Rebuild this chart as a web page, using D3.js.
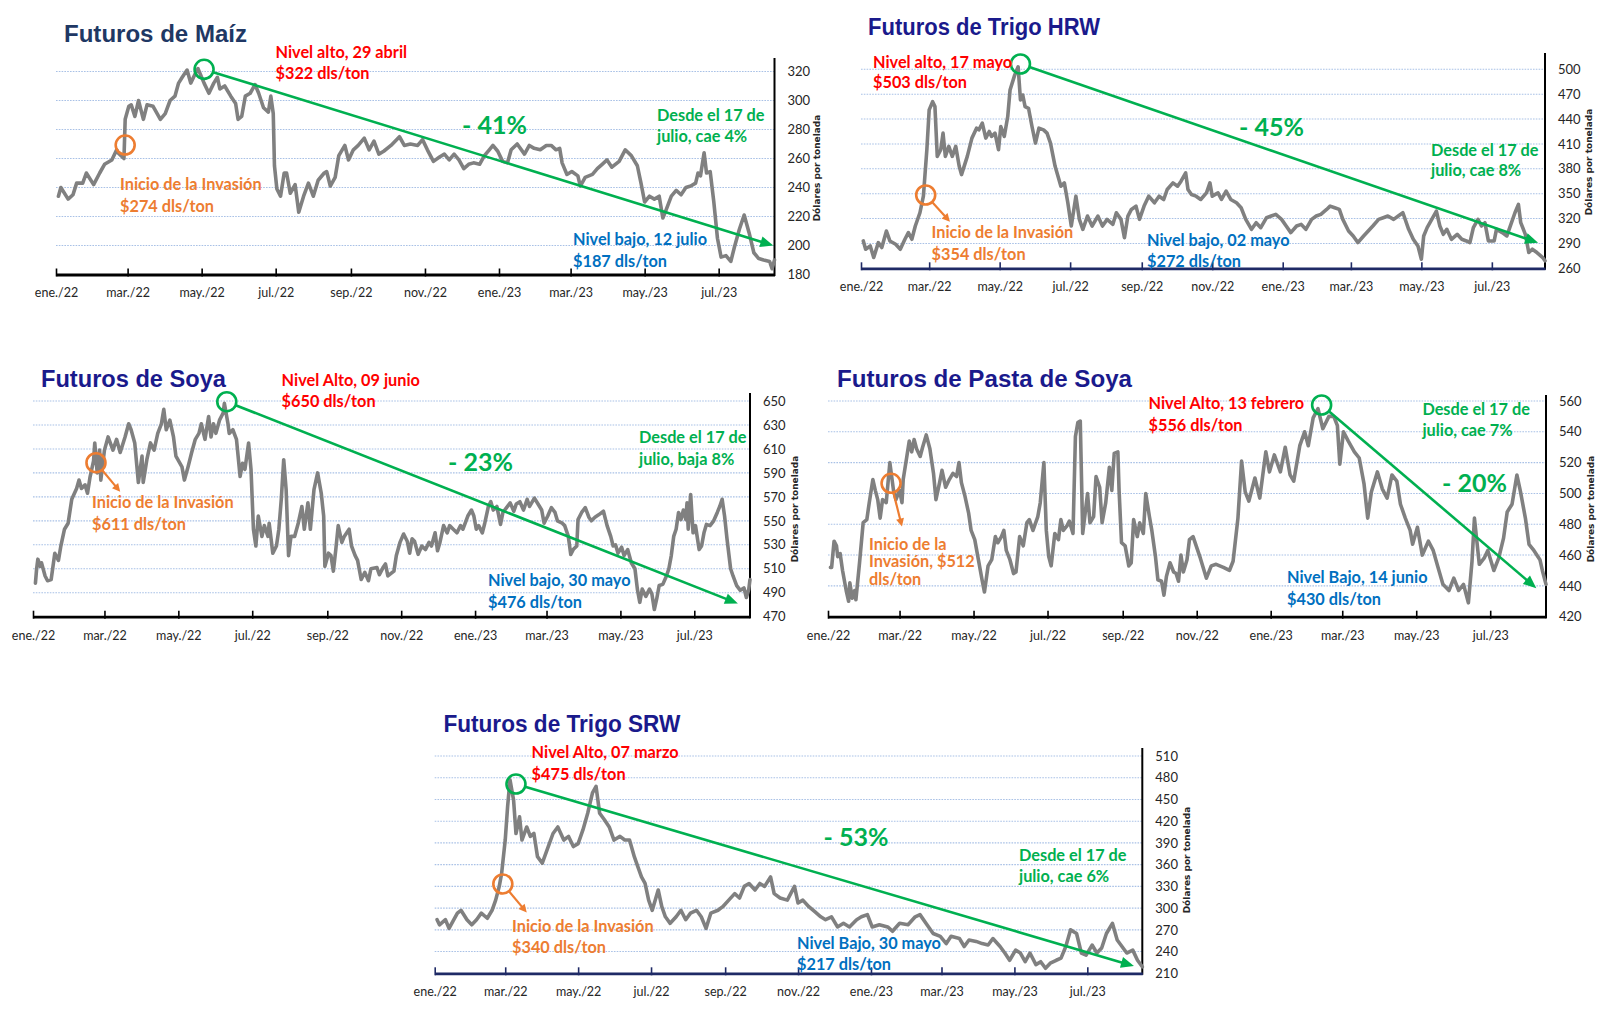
<!DOCTYPE html>
<html><head><meta charset="utf-8">
<script src="https://cdn.jsdelivr.net/npm/d3@7"></script>
<style>body{margin:0;background:#fff}svg{display:block}</style>
</head><body><svg id="c" width="1600" height="1009"></svg>
<script>
// ---------- DATA ----------
// x = days since 1 Jan 2022, y = US$ per ton
const tickLabels = ["ene./22","mar./22","may./22","jul./22","sep./22","nov./22","ene./23","mar./23","may./23","jul./23"];
const tickMonths = [0,2,4,6,8,10,12,14,16,18];

const maizTicks = [180,200,220,240,260,280,300,320];
const hrwTicks = [260,290,320,350,380,410,440,470,500];
const soyaTicks = [470,490,510,530,550,570,590,610,630,650];
const pastaTicks = [420,440,460,480,500,520,540,560];
const srwTicks = [210,240,270,300,330,360,390,420,450,480,510];

const maizData = [[2,234],[4,240],[10,232],[14,235],[17,243],[22,243],[25,250],[31,242],[36,250],[40,256],[46,259],[50,266],[51,264],[56,260],[57,287],[60,296],[62,297],[65,289],[68,300],[72,287],[75,297],[80,296],[86,287],[90,291],[94,300],[98,303],[101,312],[104,316],[108,321],[111,312],[115,319],[117,322],[122,312],[126,305],[130,312],[133,316],[135,308],[139,310],[144,303],[148,298],[150,287],[153,289],[156,303],[160,305],[164,311],[167,305],[171,295],[175,292],[177,303],[179,291],[180,255],[182,239],[185,234],[188,250],[190,250],[193,236],[197,242],[200,223],[204,234],[208,243],[212,234],[216,245],[221,250],[223,251],[226,241],[230,247],[233,262],[238,269],[241,259],[245,266],[249,269],[254,274],[258,266],[262,272],[266,263],[270,265],[276,269],[283,275],[287,269],[292,270],[298,269],[302,273],[306,266],[311,258],[316,261],[320,263],[324,259],[328,263],[332,259],[336,253],[340,256],[344,257],[349,256],[353,262],[357,266],[360,269],[364,265],[368,258],[372,257],[375,266],[380,270],[386,263],[390,269],[394,267],[399,266],[404,269],[408,269],[412,266],[415,267],[417,257],[421,249],[425,251],[430,248],[432,241],[436,247],[442,249],[446,253],[450,256],[454,259],[458,254],[464,258],[469,266],[474,262],[479,255],[482,243],[485,230],[489,234],[493,232],[497,234],[500,219],[502,223],[507,234],[511,238],[515,235],[519,240],[523,241],[527,243],[529,250],[531,248],[534,264],[536,250],[539,251],[542,230],[545,205],[548,192],[552,193],[556,189],[559,199],[563,211],[567,221],[571,209],[575,195],[579,191],[583,190],[588,189],[590,184],[592,190]];

const hrwData = [[2,293],[4,283],[8,287],[11,273],[15,291],[18,285],[22,305],[25,293],[30,289],[34,283],[38,295],[41,303],[44,295],[47,311],[51,327],[54,347],[57,403],[59,451],[62,461],[64,455],[66,395],[69,403],[71,423],[73,395],[76,407],[79,395],[82,407],[85,383],[87,373],[92,395],[96,417],[100,429],[102,427],[105,435],[108,417],[111,425],[113,419],[116,423],[119,403],[121,431],[124,419],[127,443],[129,475],[133,493],[136,503],[138,463],[140,469],[142,455],[145,453],[148,431],[151,411],[154,429],[158,427],[161,423],[164,411],[168,383],[173,359],[176,363],[179,339],[182,311],[186,347],[189,319],[192,307],[196,323],[200,311],[205,323],[209,311],[213,319],[218,313],[221,327],[225,319],[228,297],[231,323],[234,331],[238,335],[241,319],[245,335],[249,347],[254,339],[258,347],[262,343],[265,355],[270,363],[274,359],[277,365],[281,375],[283,355],[286,349],[290,347],[294,343],[299,351],[302,363],[304,347],[309,351],[312,343],[316,353],[320,343],[325,339],[329,333],[333,319],[338,307],[342,315],[346,309],[351,321],[355,323],[359,325],[364,319],[368,311],[372,303],[377,311],[381,313],[385,307],[390,319],[394,323],[398,325],[403,331],[406,335],[410,333],[414,331],[417,319],[422,305],[426,299],[430,291],[435,299],[439,305],[443,311],[448,319],[452,321],[456,323],[461,319],[465,323],[469,327],[474,307],[478,295],[482,287],[485,271],[487,299],[490,309],[494,319],[498,329],[501,311],[504,301],[507,307],[511,295],[516,301],[520,295],[524,293],[527,291],[530,309],[534,319],[537,311],[540,315],[543,293],[548,293],[550,307],[555,303],[559,299],[563,315],[566,327],[569,337],[571,315],[575,301],[578,279],[581,283],[585,279],[590,273],[592,269]];

const soyaData = [[2,498],[3,510],[4,518],[6,512],[7,515],[10,504],[12,500],[15,501],[18,523],[21,517],[23,529],[26,543],[29,548],[32,568],[36,577],[38,584],[40,577],[43,580],[45,573],[47,586],[50,600],[51,615],[53,590],[55,609],[56,584],[59,609],[62,620],[66,609],[69,618],[72,607],[76,620],[79,631],[81,626],[84,615],[87,582],[90,604],[91,582],[94,601],[97,615],[100,609],[103,623],[106,631],[108,643],[110,626],[113,634],[116,620],[118,604],[123,595],[125,584],[128,595],[131,607],[134,618],[137,623],[139,631],[142,618],[145,637],[147,620],[149,631],[151,623],[154,634],[157,640],[158,648],[161,631],[162,623],[165,626],[168,618],[171,587],[173,598],[175,593],[178,615],[180,593],[182,543],[184,529],[186,554],[189,537],[191,546],[194,537],[195,548],[198,523],[201,529],[203,543],[205,568],[207,601],[209,576],[211,521],[213,537],[216,537],[219,548],[222,562],[224,543],[227,565],[229,543],[232,576],[235,590],[238,573],[240,554],[241,512],[244,523],[246,521],[248,508],[250,526],[252,546],[255,532],[257,537],[261,543],[263,529],[266,521],[268,517],[271,501],[274,507],[277,500],[279,510],[284,511],[286,505],[289,511],[291,514],[293,504],[298,508],[300,521],[303,532],[306,539],[309,533],[311,523],[313,535],[315,533],[318,522],[321,529],[324,526],[327,532],[329,529],[332,540],[334,525],[336,532],[339,546],[342,540],[344,546],[347,543],[350,540],[353,546],[355,543],[359,554],[362,559],[364,554],[366,543],[368,546],[371,540],[373,548],[376,562],[378,566],[380,559],[383,562],[386,547],[388,557],[391,561],[394,565],[397,558],[399,564],[402,566],[405,559],[408,568],[410,562],[414,569],[417,564],[420,559],[422,548],[425,554],[428,561],[431,557],[433,550],[437,548],[439,546],[442,537],[444,522],[446,526],[449,529],[450,551],[453,557],[456,561],[459,553],[461,550],[464,553],[467,555],[471,558],[474,546],[477,537],[479,529],[481,530],[483,523],[486,528],[488,521],[491,526],[494,515],[497,510],[499,493],[501,482],[503,493],[506,487],[509,493],[511,489],[513,476],[515,485],[517,496],[520,497],[523,504],[525,510],[527,521],[529,537],[531,543],[533,557],[535,551],[537,559],[539,551],[540,565],[541,543],[543,572],[545,540],[547,546],[550,526],[552,529],[554,540],[556,547],[559,546],[562,550],[565,557],[567,562],[569,568],[571,554],[573,535],[576,510],[578,504],[581,496],[584,492],[587,494],[589,486],[591,493],[592,501]];

const pastaData = [[2,452],[3,452],[5,469],[7,466],[8,459],[10,461],[12,450],[15,437],[17,430],[18,442],[20,432],[22,437],[23,431],[26,455],[29,481],[32,483],[34,494],[37,509],[39,502],[41,496],[43,484],[45,496],[48,494],[51,520],[54,502],[56,496],[59,502],[61,494],[62,509],[65,524],[67,534],[69,527],[71,535],[73,529],[76,524],[78,530],[81,538],[84,529],[87,513],[89,496],[92,507],[94,515],[97,504],[100,509],[103,513],[106,511],[108,520],[110,507],[113,498],[116,487],[118,476],[121,470],[124,457],[127,444],[129,436],[132,453],[135,457],[138,472],[140,468],[143,472],[145,476],[147,463],[150,457],[153,448],[155,449],[158,472],[161,466],[164,481],[166,483],[169,476],[173,485],[175,494],[178,520],[180,476],[182,459],[184,453],[187,474],[190,470],[192,483],[194,476],[197,479],[199,482],[202,474],[204,537],[206,546],[208,547],[210,474],[212,487],[214,500],[216,481],[219,485],[221,511],[224,504],[226,481],[229,494],[232,517],[234,502],[236,526],[239,527],[240,502],[242,468],[245,466],[248,453],[250,455],[252,483],[255,472],[257,481],[260,474],[262,500],[265,485],[267,476],[270,459],[272,444],[275,443],[277,434],[279,446],[282,455],[285,449],[287,448],[289,443],[291,460],[293,449],[296,457],[298,470],[301,472],[307,458],[312,445],[316,453],[320,454],[326,452],[331,450],[334,456],[338,484],[341,521],[344,501],[347,495],[352,510],[356,497],[361,527],[364,514],[368,525],[373,514],[377,530],[381,512],[384,508],[389,531],[393,540],[396,531],[400,549],[404,555],[408,542],[413,550],[417,550],[420,544],[422,519],[425,540],[429,534],[434,527],[438,523],[442,506],[445,484],[448,501],[453,514],[457,503],[461,497],[465,512],[469,508],[472,493],[476,484],[480,476],[482,467],[486,478],[490,460],[495,469],[499,463],[503,452],[507,441],[512,437],[516,445],[520,437],[524,441],[528,429],[531,456],[533,484],[537,454],[541,458],[544,463],[549,450],[553,458],[557,471],[560,488],[564,493],[568,512],[571,501],[575,484],[578,467],[582,463],[587,457],[589,450],[592,441]];

const srwData = [[2,284],[4,277],[9,284],[12,272],[16,284],[19,293],[22,297],[27,284],[31,277],[35,284],[39,293],[44,286],[48,297],[51,311],[54,330],[56,348],[59,394],[61,440],[63,477],[66,449],[68,403],[71,426],[73,394],[77,412],[80,399],[83,403],[86,371],[90,362],[95,385],[99,403],[103,412],[108,394],[112,399],[116,385],[120,389],[124,408],[128,431],[132,459],[135,468],[138,431],[142,422],[146,412],[150,394],[155,399],[159,394],[163,394],[167,371],[170,357],[173,343],[176,334],[179,311],[182,297],[187,325],[190,302],[193,288],[197,279],[202,288],[206,297],[210,284],[214,293],[219,297],[223,288],[227,272],[231,293],[237,297],[241,302],[246,311],[251,320],[255,314],[259,330],[263,334],[268,325],[272,334],[276,330],[281,343],[284,320],[289,314],[295,311],[301,330],[304,307],[308,311],[313,302],[318,295],[323,288],[327,284],[332,288],[337,274],[342,279],[347,274],[353,284],[357,288],[362,291],[366,274],[372,277],[379,274],[383,268],[389,279],[396,277],[402,288],[406,291],[411,279],[417,265],[423,261],[428,251],[432,261],[439,258],[443,247],[447,256],[453,254],[458,251],[463,249],[467,258],[473,247],[477,238],[481,228],[486,242],[490,238],[494,226],[498,238],[503,222],[507,226],[511,217],[515,224],[520,228],[524,231],[528,247],[532,270],[537,265],[541,238],[545,235],[550,249],[554,238],[558,245],[562,265],[567,279],[571,256],[575,247],[579,238],[584,242],[588,228],[592,219]];

// annotation anchor points [day, value]: high circle, trend-arrow tip, invasion circle, invasion-arrow tip
const maizMarks  = {high:[122,321.5], tip:[591,200],   inv:[57.7,269.3], invTip:null};
const hrwMarks   = {high:[138.2,506.4], tip:[586.2,290.8], inv:[56,348.4], invTip:[77,316.2]};
const soyaMarks  = {high:[160.6,649.4], tip:[582.4,481], inv:[52.3,598.5], invTip:[72.4,574.3]};
const pastaMarks = {high:[407.8,557.4], tip:[584.7,438.5], inv:[52.2,506.6], invTip:[61.8,478.5]};
const srwMarks   = {high:[68.3,471.3], tip:[585,220], inv:[57.7,333.3], invTip:[77.7,294]};

// ---------- DRAWING ----------
const C = {red:"#FF0000", orange:"#ED7D31", green:"#00B050", blue:"#0070C0", line:"#808080"};
const svg = d3.select("#c");
svg.append("rect").attr("width",1600).attr("height",1009).attr("fill","#fff");
const start = new Date(2022,0,1), end = new Date(2023,7,16);
const tickDates = tickMonths.map(m => new Date(2022, m, 1));
const toDate = d => d3.timeDay.offset(start, d);

const panels = [
 {title:"Futuros de Maíz", titleColor:"#1F3864", titlePos:[64,41.5], titleW:183, data:maizData, ticks:maizTicks, marks:maizMarks,
  x0:56, x1:774.5, yT:71.5, yB:274.5, axisTop:58, axisColor:"#000", yTitle:[817,168],
  labels:[["Nivel alto, 29 abril",275.5,57.5,"red"],["$322 dls/ton",275.5,78.5,"red"],
          ["- 41%",462,134,"green",25],["Desde el 17 de",657,121,"green"],["julio, cae 4%",657,142,"green"],
          ["Inicio de la Invasión",120,189.5,"orange"],["$274 dls/ton",120,211.5,"orange"],
          ["Nivel bajo, 12 julio",573,244.5,"blue"],["$187 dls/ton",573,266.5,"blue"]]},
 {title:"Futuros de Trigo HRW", titleColor:"#1A1A8C", titlePos:[868,35], titleW:232, data:hrwData, ticks:hrwTicks, marks:hrwMarks,
  x0:861, x1:1545, yT:69.3, yB:268.3, axisTop:53, axisColor:"#1F2A66", yTitle:[1589,162],
  labels:[["Nivel alto, 17 mayo",873,67.5,"red"],["$503 dls/ton",873,88,"red"],
          ["- 45%",1239,136,"green",25],["Desde el 17 de",1431,155.5,"green"],["julio, cae 8%",1431,176,"green"],
          ["Inicio de la Invasión",931.6,238,"orange"],["$354 dls/ton",931.6,259.5,"orange"],
          ["Nivel bajo, 02 mayo",1147,246,"blue"],["$272 dls/ton",1147,267,"blue"]]},
 {title:"Futuros de Soya", titleColor:"#1A1A8C", titlePos:[41,386.7], titleW:185, data:soyaData, ticks:soyaTicks, marks:soyaMarks,
  x0:33, x1:750, yT:401, yB:616.7, axisTop:393, axisColor:"#000", yTitle:[795,509],
  labels:[["Nivel Alto, 09 junio",281.6,385.5,"red"],["$650 dls/ton",281.6,407,"red"],
          ["- 23%",448,470.5,"green",25],["Desde el 17 de",639,442.8,"green"],["julio, baja 8%",639,464.5,"green"],
          ["Inicio de la Invasión",92,508,"orange"],["$611 dls/ton",92,530,"orange"],
          ["Nivel bajo, 30 mayo",488,586,"blue"],["$476 dls/ton",488,607.5,"blue"]]},
 {title:"Futuros de Pasta de Soya", titleColor:"#1A1A8C", titlePos:[837,386.7], titleW:295, data:pastaData, ticks:pastaTicks, marks:pastaMarks,
  x0:828, x1:1546, yT:401, yB:616.7, axisTop:395, axisColor:"#000", yTitle:[1591,509],
  labels:[["Nivel Alto, 13 febrero",1148.5,408.8,"red"],["$556 dls/ton",1148.5,430.5,"red"],
          ["- 20%",1442,492,"green",25],["Desde el 17 de",1422.4,414.5,"green"],["julio, cae 7%",1422.4,436,"green"],
          ["Inicio de la",869,549.8,"orange"],["Invasión, $512",869,567,"orange"],["dls/ton",869,584.8,"orange"],
          ["Nivel Bajo, 14 junio",1287,582.8,"blue"],["$430 dls/ton",1287,604.5,"blue"]]},
 {title:"Futuros de Trigo SRW", titleColor:"#1A1A8C", titlePos:[443.4,731.7], titleW:237, data:srwData, ticks:srwTicks, marks:srwMarks,
  x0:434.7, x1:1142.3, yT:756, yB:973.3, axisTop:748, axisColor:"#1F2A66", yTitle:[1187,860],
  labels:[["Nivel Alto, 07 marzo",531.6,758,"red"],["$475 dls/ton",531.6,780,"red"],
          ["- 53%",823.5,846,"green",25],["Desde el 17 de",1019,860.5,"green"],["julio, cae 6%",1019,881.5,"green"],
          ["Inicio de la Invasión",512,931.5,"orange"],["$340 dls/ton",512,953,"orange"],
          ["Nivel Bajo, 30 mayo",797,948.8,"blue"],["$217 dls/ton",797,969.5,"blue"]]}
];

function arrow(g, x1, y1, x2, y2, color, w, headLen, headW) {
  const dx = x2-x1, dy = y2-y1, L = Math.hypot(dx,dy), ux = dx/L, uy = dy/L;
  const bx = x2-ux*headLen, by = y2-uy*headLen;
  g.append("line").attr("x1",x1).attr("y1",y1).attr("x2",bx+ux*1).attr("y2",by+uy*1)
    .attr("stroke",color).attr("stroke-width",w);
  const px = -uy, py = ux;
  g.append("path").attr("d",`M${x2},${y2}L${bx+px*headW/2},${by+py*headW/2}L${bx-px*headW/2},${by-py*headW/2}Z`)
    .attr("fill",color);
}

panels.forEach(p => {
  const x = d3.scaleTime().domain([start,end]).range([p.x0,p.x1]);
  const y = d3.scaleLinear().domain([p.ticks[0], p.ticks[p.ticks.length-1]]).range([p.yB,p.yT]);
  const g = svg.append("g");

  // gridlines
  g.selectAll("line.grid").data(p.ticks.slice(1)).join("line").attr("class","grid")
    .attr("x1",p.x0).attr("x2",p.x1).attr("y1",d=>y(d)).attr("y2",d=>y(d))
    .attr("stroke","#a9c1e6").attr("stroke-width",1.1).attr("stroke-dasharray","1.6,1.2");

  // right axis labels
  const ra = g.append("g").attr("transform",`translate(${p.x1},0)`)
    .call(d3.axisRight(y).tickValues(p.ticks).tickSize(0).tickPadding(13).tickFormat(d3.format("d")));
  ra.select(".domain").remove();
  ra.selectAll("text").attr("font-family","Lato, sans-serif").attr("font-size",13).attr("fill","#262626");
  g.append("line").attr("x1",p.x1).attr("x2",p.x1).attr("y1",p.axisTop).attr("y2",p.yB+1.5)
    .attr("stroke","#000").attr("stroke-width",2);

  // y title
  g.append("text").attr("transform",`translate(${p.yTitle[0]},${p.yTitle[1]}) rotate(-90)`)
    .attr("text-anchor","middle").attr("dominant-baseline","middle")
    .attr("font-family","DejaVu Sans, sans-serif").attr("font-weight","bold").attr("font-size",9)
    .attr("fill","#262626").text("Dólares por tonelada");

  // series line
  g.append("path").datum(p.data)
    .attr("d", d3.line().x(d=>x(toDate(d[0]))).y(d=>y(d[1])))
    .attr("fill","none").attr("stroke",C.line).attr("stroke-width",3.6)
    .attr("stroke-linejoin","round").attr("stroke-linecap","round");

  // bottom axis
  const ba = g.append("g").attr("transform",`translate(0,${p.yB})`)
    .call(d3.axisBottom(x).tickValues(tickDates).tickSizeInner(-6).tickSizeOuter(0).tickPadding(14)
      .tickFormat((d,i)=>tickLabels[i]));
  ba.select(".domain").attr("stroke",p.axisColor).attr("stroke-width",2.8);
  ba.selectAll(".tick line").attr("stroke",p.axisColor).attr("stroke-width",1.6).attr("y2",-6).attr("y1",2);
  ba.selectAll("text").attr("font-family","Lato, sans-serif").attr("font-size",12.5).attr("fill","#262626");

  // trend arrow from high circle
  const m = p.marks, R = 9.5;
  const hx = x(toDate(m.high[0])), hy = y(m.high[1]);
  const tx = x(toDate(m.tip[0])), ty = y(m.tip[1]);
  const L = Math.hypot(tx-hx, ty-hy);
  arrow(g, hx+(tx-hx)/L*R, hy+(ty-hy)/L*R, tx, ty, C.green, 2.6, 13, 11);
  g.append("circle").attr("cx",hx).attr("cy",hy).attr("r",R).attr("fill","none")
    .attr("stroke",C.green).attr("stroke-width",2.6);

  // invasion circle
  const ix = x(toDate(m.inv[0])), iy = y(m.inv[1]);
  g.append("circle").attr("cx",ix).attr("cy",iy).attr("r",R).attr("fill","none")
    .attr("stroke",C.orange).attr("stroke-width",2.6);
  if (m.invTip) {
    const jx = x(toDate(m.invTip[0])), jy = y(m.invTip[1]);
    const L2 = Math.hypot(jx-ix, jy-iy);
    arrow(g, ix+(jx-ix)/L2*R, iy+(jy-iy)/L2*R, jx, jy, C.orange, 2.2, 8, 8);
  }

  // title
  g.append("text").attr("x",p.titlePos[0]).attr("y",p.titlePos[1])
    .attr("font-family","Liberation Sans, Arial, sans-serif").attr("font-weight","bold")
    .attr("font-size",23.5).attr("textLength",p.titleW).attr("lengthAdjust","spacingAndGlyphs")
    .attr("fill",p.titleColor).text(p.title);

  // labels
  p.labels.forEach(l => {
    g.append("text").attr("x",l[1]).attr("y",l[2]).attr("fill",C[l[3]])
      .attr("font-family","Lato, sans-serif").attr("font-weight","bold")
      .attr("font-size",l[4]||16.3).text(l[0]);
  });
});
</script>
</body></html>
